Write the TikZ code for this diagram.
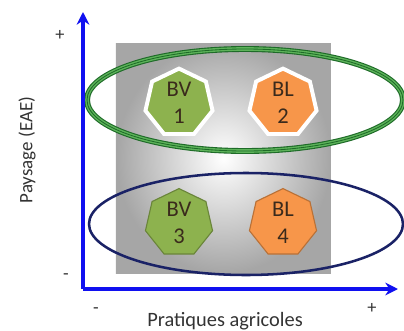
\documentclass[tikz,border=0pt]{standalone}
\usepackage{xcolor}
\usepackage{fontspec}
\setmainfont{Carlito}
\usepackage{tikz}
\usetikzlibrary{positioning}
\usetikzlibrary{shapes.geometric}
\usetikzlibrary{arrows.meta}

\definecolor{vertbv}{HTML}{8DB24E}
\definecolor{orangebl}{HTML}{F7964A}
\definecolor{vertfonce}{HTML}{1E6B28}
\definecolor{vertclair}{HTML}{5DB35A}
\definecolor{bleuaxe}{HTML}{1010F0}
\definecolor{bleunuit}{HTML}{1A2266}
\definecolor{texte}{HTML}{3A2A1C}

\tikzset{
    bassin/.style={regular polygon, regular polygon sides=7, minimum size=1.72cm,
        draw=white, line width=2.8pt, text=texte, align=center,
        font=\fontsize{16}{19}\selectfont, inner sep=0pt},
    bassinbas/.style={bassin, line width=0.8pt},
    axe/.style={bleuaxe, line width=2.2pt, -{Stealth[length=9pt,width=9pt]}},
    signe/.style={font=\fontsize{13}{14}\selectfont, text=black!80}
}

\begin{document}
\begin{tikzpicture}[x=0.025cm, y=-0.025cm]
            \useasboundingbox (0,0) rectangle (404,331);

            % Fond grise
            \shade[inner color=white, outer color=gray!70] (116,43) rectangle (331,273);

            % Ellipses
            \draw[vertfonce, line width=4.2pt] (245,100) ellipse (158 and 51);
            \draw[vertclair, line width=2.6pt] (245,100) ellipse (158 and 51);
            \draw[vertfonce, line width=0.6pt] (245,100) ellipse (158 and 51);
            \draw[bleunuit, line width=1.8pt] (246,224) ellipse (157 and 51);

            % Axes
            \coordinate (origine) at (83,289);
            \coordinate (haut) at (83,12);
            \coordinate (droite) at (398,289);
            \draw[axe] (origine) -- (haut);
            \draw[axe] (origine) -- (droite);

            % Bassins
            \node[bassin, fill=vertbv] (bv1) at (179,103) {BV\\1};
            \node[bassin, fill=orangebl] (bl2) at (283,103) {BL\\2};
            \node[bassinbas, fill=vertbv, draw=vertbv!75!black] (bv3) at (179,223) {BV\\3};
            \node[bassinbas, fill=orangebl, draw=orangebl!75!black] (bl4) at (283,223) {BL\\4};

            % Signes
            \node[signe] (yplus) at (60,35) {+};
            \node[signe] (ymoins) at (66,277) {-};
            \node[signe] (xmoins) at (96,311) {-};
            \node[signe] (xplus) at (372,308) {+};

            % Titres des axes
            \node[rotate=90, font=\fontsize{13.5}{14}\selectfont, text=black!80] (paysage) at (27,150) {Paysage (EAE)};
            \node[font=\fontsize{14.5}{15}\selectfont, text=black!80] (pratiques) at (225,321) {Pratiques agricoles};
        \end{tikzpicture}
\end{document}
